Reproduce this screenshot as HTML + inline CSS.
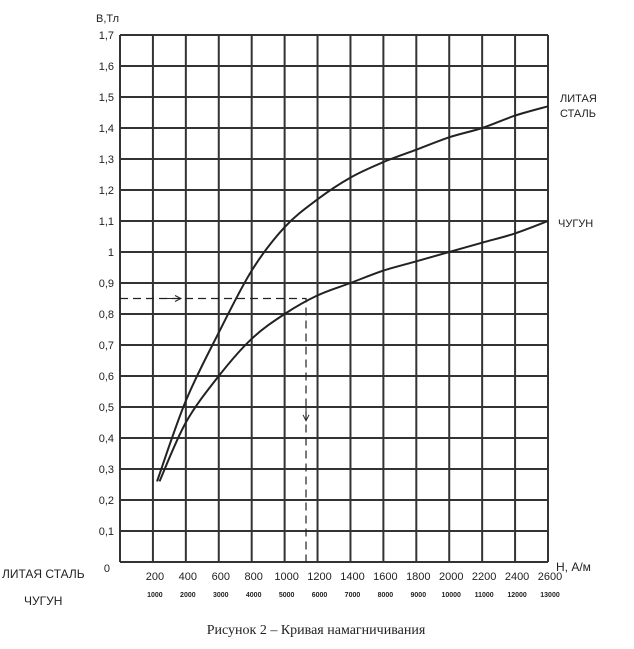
<!DOCTYPE html>
<html><head><meta charset="utf-8"><style>
body{margin:0;background:#fff;width:634px;height:644px;overflow:hidden}
svg text{font-family:"Liberation Sans",sans-serif;fill:#222}
</style></head><body>
<svg width="634" height="644">
<g id="grid"></g>
<g id="curves"></g>
<g id="labels"></g>
<text x="96" y="22" font-size="11">В,Тл</text>
<text x="556" y="571" font-size="12">Н, А/м</text>
<text x="560" y="102" font-size="11">ЛИТАЯ</text>
<text x="560" y="117" font-size="11">СТАЛЬ</text>
<text x="558" y="227" font-size="11">ЧУГУН</text>
<text x="2" y="578" font-size="12">ЛИТАЯ СТАЛЬ</text>
<text x="24" y="605" font-size="12">ЧУГУН</text>
<text x="316" y="634" font-size="14" text-anchor="middle" style="font-family:'Liberation Serif',serif">Рисунок 2 – Кривая намагничивания</text>
</svg>
<script>
const steelH=[225,400,600,800,1000,1200,1400,1600,1800,2000,2200,2400,2600];
const steelB=[0.26,0.52,0.74,0.94,1.08,1.17,1.24,1.29,1.33,1.37,1.40,1.44,1.47];
const ironH=[240,400,600,800,1000,1200,1400,1600,1800,2000,2200,2400,2600];
const ironB=[0.26,0.45,0.60,0.72,0.80,0.86,0.90,0.94,0.97,1.00,1.03,1.06,1.10];
const yTicks=["0","0,1","0,2","0,3","0,4","0,5","0,6","0,7","0,8","0,9","1","1,1","1,2","1,3","1,4","1,5","1,6","1,7"];
const xSteel=["200","400","600","800","1000","1200","1400","1600","1800","2000","2200","2400","2600"];
const xIron=["1000","2000","3000","4000","5000","6000","7000","8000","9000","10000","11000","12000","13000"];
const exampleB=0.85, exampleH=1130;
const X0=120,X1=548,Y0=562,Y1=35;
const xs=h=>X0+(X1-X0)*h/2600, ys=b=>Y0-(Y0-Y1)*b/1.7;
const NS="http://www.w3.org/2000/svg";
function mk(t,a,p){const e=document.createElementNS(NS,t);for(const k in a)e.setAttribute(k,a[k]);p.appendChild(e);return e;}
const g=document.getElementById('grid'),c=document.getElementById('curves'),L=document.getElementById('labels');
for(let i=0;i<=13;i++){const x=xs(i*200);
const l=mk('line',{x1:x,x2:x,y1:Y1,y2:Y0,stroke:'#333','stroke-width':2},g);
}
for(let i=0;i<=17;i++){const y=ys(i*0.1);
const l=mk('line',{x1:X0,x2:X1,y1:y,y2:y,stroke:'#333','stroke-width':2},g);
}
yTicks.forEach((t,i)=>{const e=mk('text',{x:i==0?110:114,y:ys(i*0.1)+(i==0?10:4),'font-size':11,'text-anchor':'end'},L);e.textContent=t;
});
xSteel.forEach((t,i)=>{const e=mk('text',{x:xs((i+1)*200)+2,y:580,'font-size':11,'text-anchor':'middle'},L);e.textContent=t;
});
xIron.forEach((t,i)=>{const e=mk('text',{x:xs((i+1)*200)+2,y:597,'font-size':7,'text-anchor':'middle','font-weight':'bold'},L);e.textContent=t;
});
function curve(H,B,n){const P=H.map((h,i)=>[xs(h),ys(B[i])]);
let d='M'+P[0][0]+','+P[0][1];
for(let i=0;i<P.length-1;i++){const p0=P[Math.max(0,i-1)],p1=P[i],p2=P[i+1],p3=P[Math.min(P.length-1,i+2)];
d+=`C${p1[0]+(p2[0]-p0[0])/6},${p1[1]+(p2[1]-p0[1])/6} ${p2[0]-(p3[0]-p1[0])/6},${p2[1]-(p3[1]-p1[1])/6} ${p2[0]},${p2[1]}`;}
const p=mk('path',{d:d,fill:'none',stroke:'#222','stroke-width':2},c);
}
curve(steelH,steelB,'steel-curve');curve(ironH,ironB,'iron-curve');
const yb=ys(exampleB),xh=xs(exampleH);
const d1=mk('path',{d:`M${X0},${yb}H${xh}V${Y0}`,fill:'none',stroke:'#222','stroke-width':1.2,'stroke-dasharray':'8,5'},c);

const a1=mk('path',{d:`M${X0+45},${yb}h16m-6,-3l6,3l-6,3`,fill:'none',stroke:'#222','stroke-width':1},c);

const a2=mk('path',{d:`M${xh},${ys(0.52)}v20m-3,-6l3,6l3,-6`,fill:'none',stroke:'#222','stroke-width':1},c);

</script>
</body></html>
